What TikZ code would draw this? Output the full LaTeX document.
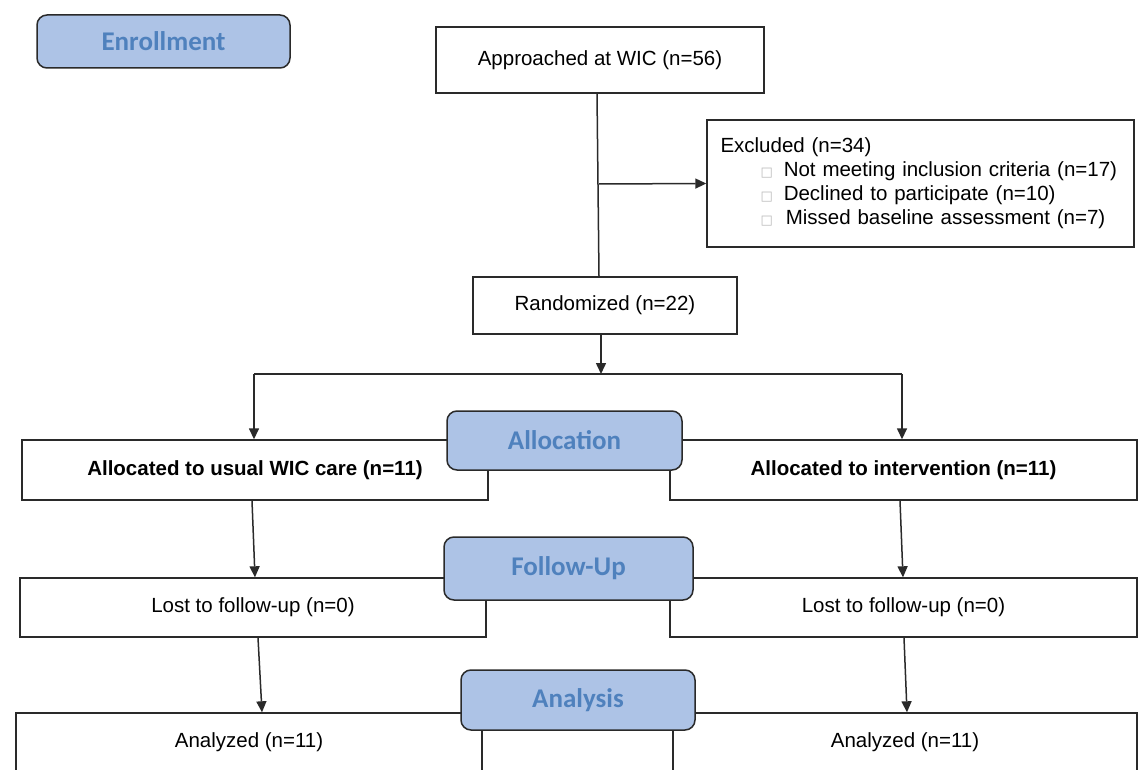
\documentclass[tikz,border=0pt]{standalone}
\usepackage{fontspec}
\setmainfont{Liberation Sans}
\newfontfamily\hdrfont{Carlito}
\newfontfamily\symfont{DejaVu Sans}
\usetikzlibrary{arrows.meta}
\definecolor{hdrfill}{HTML}{ADC3E6}
\definecolor{hdrtext}{HTML}{4F81BD}
\definecolor{edge}{HTML}{2A2A2A}
\tikzset{
  box/.style={draw=edge, line width=1.4pt, fill=white, inner sep=0pt, align=center,
    font=\fontsize{20.5}{24}\selectfont},
  boldbox/.style={box, font=\fontsize{20.5}{24}\selectfont\bfseries},
  hdr/.style={draw=edge, line width=1.5pt, fill=hdrfill, rounded corners=10pt, inner sep=0pt,
    text=hdrtext, font=\fontsize{27}{30}\selectfont\hdrfont\bfseries},
  arr/.style={draw=edge, line width=1.5pt, -{Triangle[length=11pt,width=10pt]}},
  ln/.style={draw=edge, line width=1.5pt},
}
\newcommand{\bsq}{{\color{gray!55}\fontsize{13}{13}\symfont □}}
\begin{document}
\begin{tikzpicture}[x=1pt,y=-1pt]
\useasboundingbox (0,0) rectangle (1141,770);
\clip (0,0) rectangle (1141,770);

% Enrollment
\node[hdr, minimum width=253pt, minimum height=53pt] (enr) at (163.5,41.5) {Enrollment};

\node[box, minimum width=328pt, minimum height=66pt] (appr) at (600,60) {\raisebox{4pt}{Approached at WIC (n=56)}};
\node[box, minimum width=427pt, minimum height=127pt, text width=400pt, align=left,
      font=\fontsize{20.5}{24}\selectfont] (excl) at (920.5,183.5)
  {Excluded (n=34)\\
   \hspace*{40pt}\bsq\hspace{11pt}Not meeting inclusion criteria (n=17)\\
   \hspace*{40pt}\bsq\hspace{11pt}Declined to participate (n=10)\\
   \hspace*{40pt}\bsq\hspace{13pt}Missed baseline assessment (n=7)};
\node[box, minimum width=264pt, minimum height=57pt] (rand) at (605,305.5) {Randomized (n=22)};

\draw[ln] ([xshift=-3pt]appr.south) -- ([xshift=-6pt]rand.north);
\coordinate (br) at (599,184);
\draw[arr] (br) -- (excl.west);

% split
\coordinate (sp) at (601,374);
\coordinate (spL) at (254,374);
\coordinate (spR) at (902,374);
\draw[arr] ([xshift=-4pt]rand.south) -- (sp);
\draw[ln] (spL) -- (spR);
\draw[draw=edge, line width=2.3pt] (520,374) -- (635,374);

% Allocation row
\node[boldbox, minimum width=466pt, minimum height=60pt] (allocL) at (255,470) {\raisebox{3pt}{Allocated to usual WIC care (n=11)}};
\node[boldbox, minimum width=467pt, minimum height=60pt] (allocR) at (903.5,470) {\raisebox{2pt}{Allocated to intervention (n=11)}};
\node[hdr, minimum width=235pt, minimum height=59pt] (alloc) at (564.5,440.5) {Allocation};
\draw[arr] (spL) -- ([xshift=-1pt]allocL.north);
\draw[arr] (spR) -- ([xshift=-1.5pt]allocR.north);

% Follow-up row
\node[box, minimum width=466pt, minimum height=59pt] (fuL) at (253,607.5) {Lost to follow-up (n=0)};
\node[box, minimum width=467pt, minimum height=59pt] (fuR) at (903.5,607.5) {Lost to follow-up (n=0)};
\node[hdr, minimum width=249pt, minimum height=63pt] (fu) at (568.5,568.5) {Follow-Up};
\draw[arr] ([xshift=-3pt]allocL.south) -- ([xshift=2pt]fuL.north);
\draw[arr] ([xshift=-3.5pt]allocR.south) -- ([xshift=-0.5pt]fuR.north);

% Analysis row
\node[box, minimum width=466pt, minimum height=58pt] (anL) at (249,742) {Analyzed (n=11)};
\node[box, minimum width=464pt, minimum height=58pt] (anR) at (905,742) {Analyzed (n=11)};
\node[hdr, minimum width=234pt, minimum height=60pt] (an) at (578,700) {Analysis};
\draw[arr] ([xshift=5pt]fuL.south) -- ([xshift=13pt]anL.north);
\draw[arr] ([xshift=0.5pt]fuR.south) -- ([xshift=2pt]anR.north);
\end{tikzpicture}
\end{document}
